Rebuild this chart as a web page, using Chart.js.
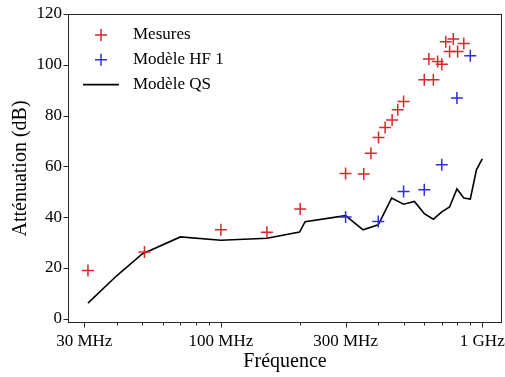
<!DOCTYPE html>
<html>
<head>
<meta charset="utf-8">
<script src="https://cdn.jsdelivr.net/npm/chart.js@4"></script>
<style>
    html, body { margin: 0; padding: 0; background: #fff; }
    #wrap { width: 505px; height: 377px; }
</style>
</head>
<body>
<div id="wrap"><canvas id="attChart" width="505" height="377"></canvas></div>
<script>
// Fréquences en MHz, atténuations en dB
const mesuresFreq = [31, 51, 100, 150, 201, 300, 352, 375, 401, 425, 452, 475, 500, 600, 625, 650, 675, 700, 725, 750, 775, 805, 850];
const mesuresAtt = [19, 26.3, 35, 34, 43.2, 57.2, 57, 65.2, 71.4, 75.3, 78.3, 82.3, 85.5, 94.1, 102.3, 94.1, 101.3, 100.2, 109.1, 105.2, 110.2, 105.2, 108.4];

const hfFreq = [300, 400, 500, 600, 700, 800, 900];
const hfAtt = [40, 38.3, 50.1, 50.8, 60.6, 86.9, 103.6];

const qsFreq = [31, 40, 50, 70, 100, 150, 200, 210, 300, 350, 400, 450, 500, 550, 600, 650, 700, 750, 800, 850, 900, 950, 1000];
const qsAtt = [6.1, 17, 25.5, 32.2, 30.9, 31.7, 34.1, 38.2, 40.6, 35, 37, 47.5, 45.1, 46.2, 41.4, 39.2, 42.1, 44, 51.1, 47.5, 47.1, 58.6, 62.9];

const xTicks = [30, 40, 50, 60, 70, 80, 90, 100, 200, 300, 400, 500, 600, 700, 800, 900, 1000];
const xLabels = { 30: '30 MHz', 100: '100 MHz', 300: '300 MHz', 1000: '1 GHz' };
const yTicks = [0, 20, 40, 60, 80, 100, 120];

const RED = 'rgb(214, 40, 44)';
const BLUE = 'rgb(48, 48, 214)';
const FONT = "'Liberation Serif', 'Times New Roman', serif";

function toPoints(xs, ys) {
    return xs.map((x, i) => ({ x: x, y: ys[i] }));
}

// Cadre + graduations façon matplotlib (majeures longues, mineures courtes)
const frameTicks = {
    id: 'frameTicks',
    afterDraw(chart) {
        const { ctx, chartArea: a, scales } = chart;
        ctx.save();
        ctx.strokeStyle = '#262626';
        ctx.lineWidth = 1;
        const l = Math.round(a.left) + 0.5, r = Math.round(a.right) - 0.5;
        const t = Math.round(a.top) + 0.5, b = Math.round(a.bottom) - 0.5;
        ctx.strokeRect(l, t, r - l, b - t);
        ctx.beginPath();
        scales.x.ticks.forEach(tick => {
            const px = Math.round(scales.x.getPixelForValue(tick.value)) + 0.5;
            const len = xLabels[tick.value] ? 5 : 3;
            ctx.moveTo(px, b);
            ctx.lineTo(px, b + len);
        });
        scales.y.ticks.forEach(tick => {
            const py = Math.round(scales.y.getPixelForValue(tick.value)) + 0.5;
            ctx.moveTo(l, py);
            ctx.lineTo(l - 5, py);
        });
        ctx.stroke();
        ctx.restore();
    }
};

// Légende en haut à gauche, dans la zone du graphique
const innerLegend = {
    id: 'innerLegend',
    afterDraw(chart) {
        const { ctx, chartArea: a } = chart;
        ctx.save();
        ctx.font = '17px ' + FONT;
        ctx.textBaseline = 'middle';
        ctx.fillStyle = '#000';
        chart.data.datasets.forEach((ds, i) => {
            const y = a.top + 21 + i * 24.8;
            const x0 = a.left + 15;
            ctx.strokeStyle = ds.borderColor;
            ctx.lineWidth = ds.borderWidth;
            ctx.beginPath();
            if (ds.showLine) {
                ctx.moveTo(x0, y);
                ctx.lineTo(x0 + 36, y);
            } else {
                const cx = x0 + 18;
                ctx.moveTo(cx - 6, y);
                ctx.lineTo(cx + 6, y);
                ctx.moveTo(cx, y - 6);
                ctx.lineTo(cx, y + 6);
            }
            ctx.stroke();
            ctx.fillText(ds.label, x0 + 50, y);
        });
        ctx.restore();
    }
};

new Chart(document.getElementById('attChart'), {
    type: 'scatter',
    data: {
        datasets: [
            {
                label: 'Mesures',
                data: toPoints(mesuresFreq, mesuresAtt),
                pointStyle: 'cross',
                pointRadius: 6,
                borderColor: RED,
                backgroundColor: RED,
                borderWidth: 1.5
            },
            {
                label: 'Modèle HF 1',
                data: toPoints(hfFreq, hfAtt),
                pointStyle: 'cross',
                pointRadius: 6,
                borderColor: BLUE,
                backgroundColor: BLUE,
                borderWidth: 1.5
            },
            {
                label: 'Modèle QS',
                data: toPoints(qsFreq, qsAtt),
                showLine: true,
                pointRadius: 0,
                borderColor: '#000',
                backgroundColor: '#000',
                borderWidth: 1.6,
                tension: 0
            }
        ]
    },
    options: {
        responsive: false,
        animation: false,
        devicePixelRatio: 1,
        layout: { autoPadding: false, padding: { top: 14, right: 3, left: 0, bottom: 0 } },
        plugins: {
            legend: { display: false },
            tooltip: { enabled: false }
        },
        scales: {
            x: {
                type: 'logarithmic',
                min: 26,
                max: 1190,
                afterBuildTicks: scale => {
                    scale.ticks = xTicks.map(v => ({ value: v }));
                },
                afterFit: scale => {
                    scale.height = 54;
                    scale.paddingLeft = 0;
                    scale.paddingRight = 0;
                },
                grid: { drawOnChartArea: false, drawTicks: true, tickLength: 5, tickColor: 'rgba(0,0,0,0)' },
                border: { display: false },
                ticks: {
                    autoSkip: false,
                    maxRotation: 0,
                    padding: 3,
                    color: '#000',
                    font: { family: FONT, size: 17 },
                    callback: value => xLabels[value] || ''
                },
                title: {
                    display: true,
                    text: 'Fréquence',
                    color: '#000',
                    font: { family: FONT, size: 20 },
                    padding: { top: 0, bottom: 3 }
                }
            },
            y: {
                type: 'linear',
                min: -1.7,
                max: 120,
                afterBuildTicks: scale => {
                    scale.ticks = yTicks.map(v => ({ value: v }));
                },
                afterFit: scale => {
                    scale.width = 68;
                    scale.paddingTop = 0;
                    scale.paddingBottom = 0;
                },
                grid: { drawOnChartArea: false, drawTicks: true, tickLength: 5, tickColor: 'rgba(0,0,0,0)' },
                border: { display: false },
                ticks: {
                    padding: 1,
                    color: '#000',
                    font: { family: FONT, size: 17 }
                },
                title: {
                    display: true,
                    text: 'Atténuation (dB)',
                    color: '#000',
                    font: { family: FONT, size: 20 },
                    padding: { top: 9, bottom: 0 }
                }
            }
        }
    },
    plugins: [frameTicks, innerLegend]
});
</script>
</body>
</html>
